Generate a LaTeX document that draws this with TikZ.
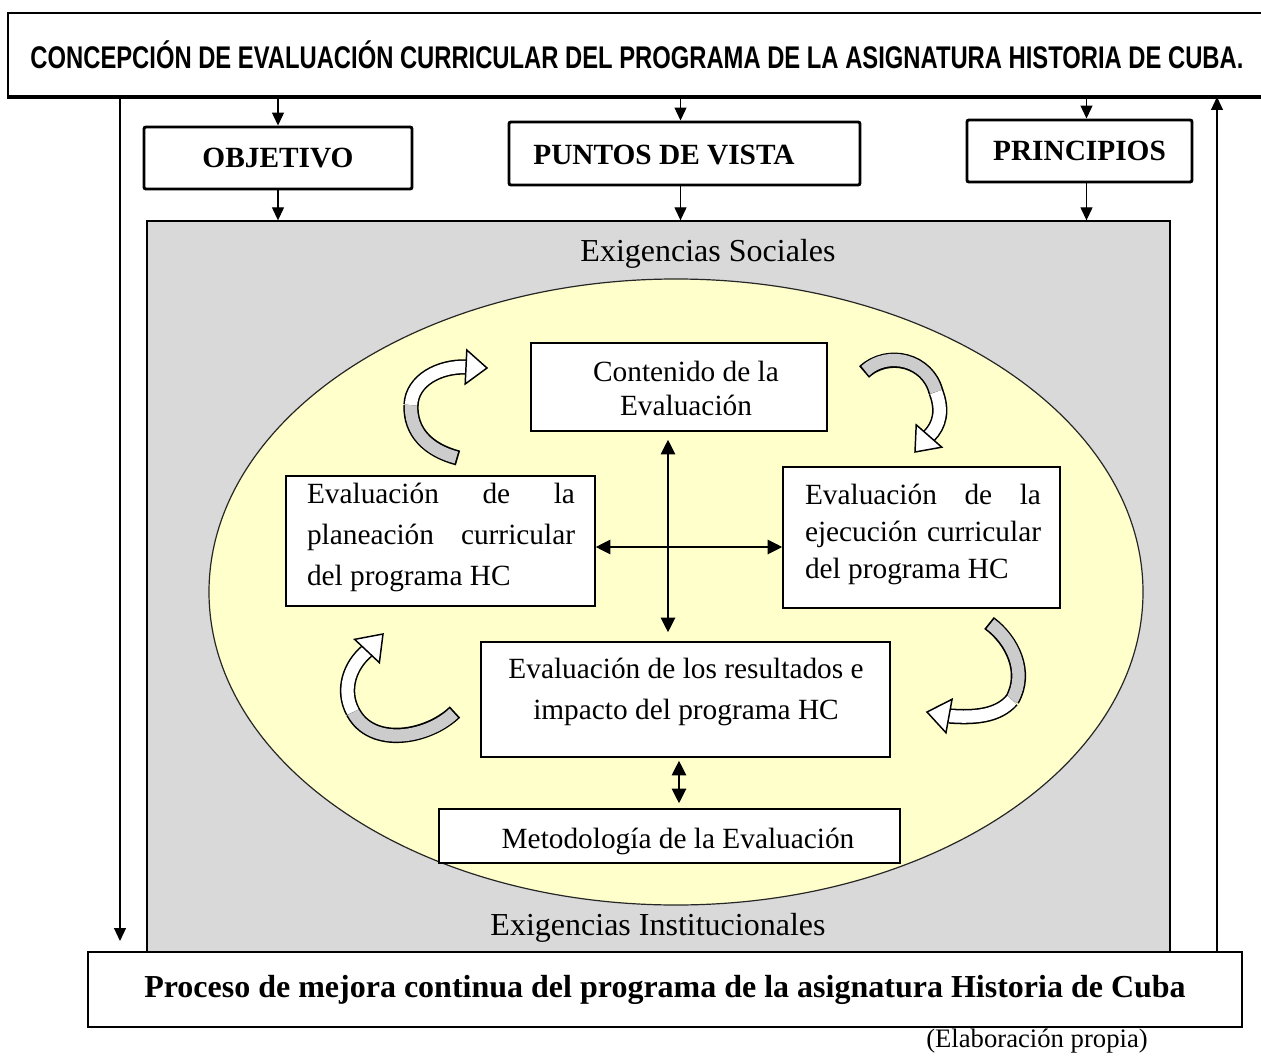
\documentclass[tikz,border=0pt]{standalone}
\usepackage{fontspec}
\setmainfont{Liberation Serif}
\newfontfamily\arialf{Liberation Sans}
\usetikzlibrary{arrows.meta,calc,shapes.geometric}
\newdimen\PX \PX=0.75pt
\newcommand{\fsz}[2]{\fontsize{#1}{#2}\selectfont}
\definecolor{ylw}{HTML}{FFFFCC}
\definecolor{gbg}{HTML}{D9D9D9}
\definecolor{rgray}{HTML}{CCCCCC}
\newcommand{\ribbon}[8]{%
 \draw[rbo] #1 .. controls #2 and #3 .. #4;
 \draw[rbg] #1 .. controls #2 and #3 .. #4;
 \draw[rbo] #4 .. controls #5 and #6 .. #7;
 \draw[rbw] #4 .. controls #5 and #6 .. #7;
 \draw[rhead] ($#7!12.75pt!90:#8$) -- #8 -- ($#7!12.75pt!-90:#8$) -- cycle;
}
\begin{document}
\begin{tikzpicture}[x=0.75pt,y=-0.75pt,
 hb/.style={draw, line width=2.2pt, rounded corners=1.5pt, fill=white, inner sep=0pt, font=\fsz{22}{26}\bfseries},
 ib/.style={draw, line width=1.2pt, fill=white, inner sep=0pt},
 tx/.style={inner sep=0pt, font=\fsz{22}{26}},
 arr/.style={-{Triangle[length=9.75pt,width=9pt]}, line width=0.9pt},
 dar/.style={{Triangle[length=11pt,width=11pt]}-{Triangle[length=11pt,width=11pt]}, line width=0.9pt},
 rbo/.style={line width=11.5pt, draw=black, line cap=butt},
 rbg/.style={line width=9.2pt, draw=rgray, line cap=butt, shorten <=1.3pt},
 rbw/.style={line width=9.2pt, draw=white, line cap=butt},
 rhead/.style={fill=white, draw=black, line width=1.1pt, line join=miter}
]
\useasboundingbox (0,0) rectangle (1261,1056);
\fill[white] (0,0) rectangle (1261,1056);

% title box
\node[draw, line width=1.5pt, fill=white, minimum width=1258\PX, minimum height=83\PX, inner sep=0pt] (top) at (637,54.5)
 {\resizebox{909.75pt}{\height}{\arialf\bfseries\fsz{23.5}{26}CONCEPCIÓN DE EVALUACIÓN CURRICULAR DEL PROGRAMA DE LA ASIGNATURA HISTORIA DE CUBA.}};
\draw[line width=2.6pt] (top.south west) -- (top.south east);

% three heading boxes
\node[hb, minimum width=268\PX, minimum height=62\PX] (obj) at (278,158) {OBJETIVO};
\node[hb, minimum width=351\PX, minimum height=63\PX] (pv) at (684.5,153.5) {};
\node[tx, font=\fsz{22}{26}\bfseries] (pvt) at (664,155) {PUNTOS DE VISTA};
\node[hb, minimum width=225\PX, minimum height=62\PX] (pr) at (1079.5,151) {PRINCIPIOS};

% gray background
\node[draw, line width=1pt, fill=gbg, minimum width=1023\PX, minimum height=731\PX, inner sep=0pt] (bg) at (658.5,586.5) {};
\node[tx, font=\fsz{24}{28}] (exs) at (708,254) {Exigencias Sociales};
\node[ellipse, draw=black!85, line width=0.9pt, fill=ylw, minimum width=934\PX, minimum height=626\PX, inner sep=0pt] (ell) at (676,592) {};
\node[tx, font=\fsz{24}{28}] (exi) at (658,928) {Exigencias Institucionales};

% arrows from top
\draw[arr] (obj.north |- top.south) -- (obj.north);
\draw[arr] ($(pv.north |- top.south)+(-4,0)$) -- ($(pv.north)+(-4,0)$);
\draw[arr] ($(pr.north |- top.south)+(7,0)$) -- ($(pr.north)+(7,0)$);
\draw[arr] (obj.south) -- (obj.south |- bg.north);
\draw[arr] ($(pv.south)+(-4,0)$) -- ($(pv.south |- bg.north)+(-4,0)$);
\draw[arr] ($(pr.south)+(7,0)$) -- ($(pr.south |- bg.north)+(7,0)$);

% inner boxes
\node[ib, minimum width=296\PX, minimum height=88\PX] (cont) at (679,387) {};
\node[tx, align=center, font=\fsz{22}{25.5}] (contt) at (686,388) {Contenido de la\\Evaluación};

\node[ib, minimum width=309\PX, minimum height=130\PX] (plan) at (440.5,541) {};
\node[tx, text width=268\PX, align=justify, font=\fsz{22}{30.75}] (plant) at (441,537)
 {\hyphenpenalty=10000 Evaluación de la\linebreak planeación curricular\linebreak del programa HC};

\node[ib, minimum width=277\PX, minimum height=141\PX] (ejec) at (921.5,537.5) {};
\node[tx, text width=236\PX, align=justify, font=\fsz{22}{28}] (eject) at (923,534.5)
 {\hyphenpenalty=10000 Evaluación de la\linebreak ejecución curricular\linebreak del programa HC};

\node[ib, minimum width=409\PX, minimum height=115\PX] (res) at (685.5,699.5) {};
\node[tx, align=center, font=\fsz{22}{30.75}] (rest) at (686,691.5) {Evaluación de los resultados e\\impacto del programa HC};

\node[ib, minimum width=461\PX, minimum height=54\PX] (met) at (669.5,836) {};
\node[tx] (mett) at (678,841) {Metodología de la Evaluación};

% cross arrows
\draw[dar] ($(cont.south)+(-11,8)$) -- ($(cont.south |- res.north)+(-11,-9)$);
\coordinate (hy) at ($(plan.east)+(0,6)$);
\draw[dar] (hy) -- (hy -| ejec.west);
\coordinate (rm) at ($(res.south)+(-6.5,3)$);
\draw[dar] (rm) -- ($(rm |- met.north)+(0,-5)$);

% curved ribbon arrows
\ribbon{(458,458)}{(428,450)}{(410,432)}{(411,405)}{(412,380)}{(440,366)}{(466,367)}{(487,368)}
\ribbon{(864,372)}{(888,350)}{(928,360)}{(936,392)}{(943,410)}{(940,425)}{(929,436)}{(915,452)}
\ribbon{(455,712)}{(428,738)}{(372,748)}{(353,712)}{(341,690)}{(350,665)}{(367,651)}{(383,634)}
\ribbon{(989,623)}{(1012,640)}{(1028,672)}{(1012,700)}{(998,716)}{(975,718)}{(949,716)}{(927,712)}

% bottom box
\node[draw, line width=1.5pt, fill=white, minimum width=1154\PX, minimum height=75\PX, inner sep=0pt, font=\fsz{24}{28}\bfseries] (bot) at (665,989.5)
 {Proceso de mejora continua del programa de la asignatura Historia de Cuba};
\node[tx, font=\fsz{20}{24}] (src) at (1037,1041) {(Elaboración propia)};

% side connectors
\coordinate (lcol) at (120,500);
\coordinate (rcol) at (1217,500);
\draw[arr, shorten >=7.5pt] (top.south -| lcol) -- (bot.north -| lcol);
\draw[arr] (bot.north -| rcol) -- (top.south -| rcol);
\end{tikzpicture}
\end{document}
